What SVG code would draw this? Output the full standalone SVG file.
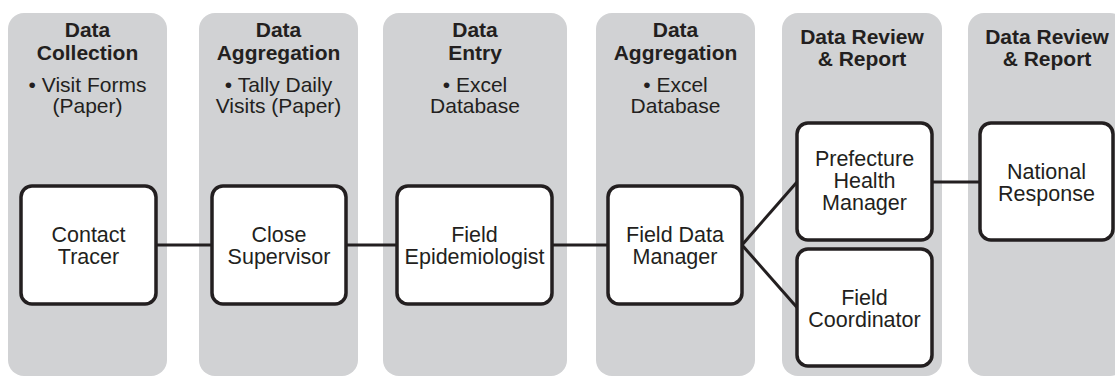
<svg xmlns="http://www.w3.org/2000/svg" width="1115" height="376" viewBox="0 0 1115 376">
  <style>
    .lane { fill: #d1d2d4; }
    .hd { font-family: "Liberation Sans", Arial, sans-serif; font-weight: bold; font-size: 21px; fill: #231f20; text-anchor: middle; }
    .bl { font-family: "Liberation Sans", Arial, sans-serif; font-size: 21px; fill: #231f20; text-anchor: middle; }
    .box { fill: #ffffff; stroke: #231f20; stroke-width: 3.5; }
    .nt { font-family: "Liberation Sans", Arial, sans-serif; font-size: 21.5px; fill: #231f20; text-anchor: middle; }
    .conn { stroke: #231f20; stroke-width: 3; fill: none; }
  </style>
  <rect width="1115" height="376" fill="#ffffff"/>

  <g id="lanes">
    <g id="lane1">
      <rect class="lane" x="8" y="13" width="159" height="363" rx="16"/>
      <text class="hd" x="87.5" y="37">Data</text>
      <text class="hd" x="87.5" y="60">Collection</text>
      <text class="bl" x="87.5" y="91.5">• Visit Forms</text>
      <text class="bl" x="87.5" y="113">(Paper)</text>
    </g>
    <g id="lane2">
      <rect class="lane" x="199" y="13" width="159" height="363" rx="16"/>
      <text class="hd" x="278.5" y="37">Data</text>
      <text class="hd" x="278.5" y="60">Aggregation</text>
      <text class="bl" x="278.5" y="91.5">• Tally Daily</text>
      <text class="bl" x="278.5" y="113">Visits (Paper)</text>
    </g>
    <g id="lane3">
      <rect class="lane" x="383" y="13" width="184" height="363" rx="16"/>
      <text class="hd" x="475" y="37">Data</text>
      <text class="hd" x="475" y="60">Entry</text>
      <text class="bl" x="475" y="91.5">• Excel</text>
      <text class="bl" x="475" y="113">Database</text>
    </g>
    <g id="lane4">
      <rect class="lane" x="596" y="13" width="159" height="363" rx="16"/>
      <text class="hd" x="675.5" y="37">Data</text>
      <text class="hd" x="675.5" y="60">Aggregation</text>
      <text class="bl" x="675.5" y="91.5">• Excel</text>
      <text class="bl" x="675.5" y="113">Database</text>
    </g>
    <g id="lane5">
      <rect class="lane" x="782" y="13" width="160" height="363" rx="16"/>
      <text class="hd" x="862" y="44">Data Review</text>
      <text class="hd" x="862" y="66">&amp; Report</text>
    </g>
    <g id="lane6">
      <rect class="lane" x="968" y="13" width="158" height="363" rx="16"/>
      <text class="hd" x="1047" y="44">Data Review</text>
      <text class="hd" x="1047" y="66">&amp; Report</text>
    </g>
  </g>

  <g id="connectors">
    <line class="conn" x1="156" y1="245" x2="212" y2="245"/>
    <line class="conn" x1="346" y1="245" x2="397" y2="245"/>
    <line class="conn" x1="552" y1="245" x2="608" y2="245"/>
    <line class="conn" x1="742" y1="245" x2="797" y2="182"/>
    <line class="conn" x1="742" y1="245" x2="797" y2="307.5"/>
    <line class="conn" x1="932" y1="182" x2="980" y2="182"/>
  </g>

  <g id="contact-tracer">
    <rect class="box" x="21" y="186" width="135" height="118" rx="11"/>
    <text class="nt" x="88.5" y="241.5">Contact</text>
    <text class="nt" x="88.5" y="263.5">Tracer</text>
  </g>
  <g id="close-supervisor">
    <rect class="box" x="212" y="186" width="134" height="118" rx="11"/>
    <text class="nt" x="279" y="241.5">Close</text>
    <text class="nt" x="279" y="263.5">Supervisor</text>
  </g>
  <g id="field-epidemiologist">
    <rect class="box" x="397" y="186" width="155" height="118" rx="11"/>
    <text class="nt" x="474.5" y="241.5">Field</text>
    <text class="nt" x="474.5" y="263.5">Epidemiologist</text>
  </g>
  <g id="field-data-manager">
    <rect class="box" x="608" y="186" width="134" height="118" rx="11"/>
    <text class="nt" x="675" y="241.5">Field Data</text>
    <text class="nt" x="675" y="263.5">Manager</text>
  </g>
  <g id="prefecture-health-manager">
    <rect class="box" x="797" y="123" width="135" height="117" rx="11"/>
    <text class="nt" x="864.5" y="166">Prefecture</text>
    <text class="nt" x="864.5" y="188">Health</text>
    <text class="nt" x="864.5" y="210">Manager</text>
  </g>
  <g id="field-coordinator">
    <rect class="box" x="797" y="249" width="135" height="117" rx="11"/>
    <text class="nt" x="864.5" y="305">Field</text>
    <text class="nt" x="864.5" y="327">Coordinator</text>
  </g>
  <g id="national-response">
    <rect class="box" x="980" y="123" width="133" height="117" rx="11"/>
    <text class="nt" x="1046.5" y="178.5">National</text>
    <text class="nt" x="1046.5" y="200.5">Response</text>
  </g>
</svg>
